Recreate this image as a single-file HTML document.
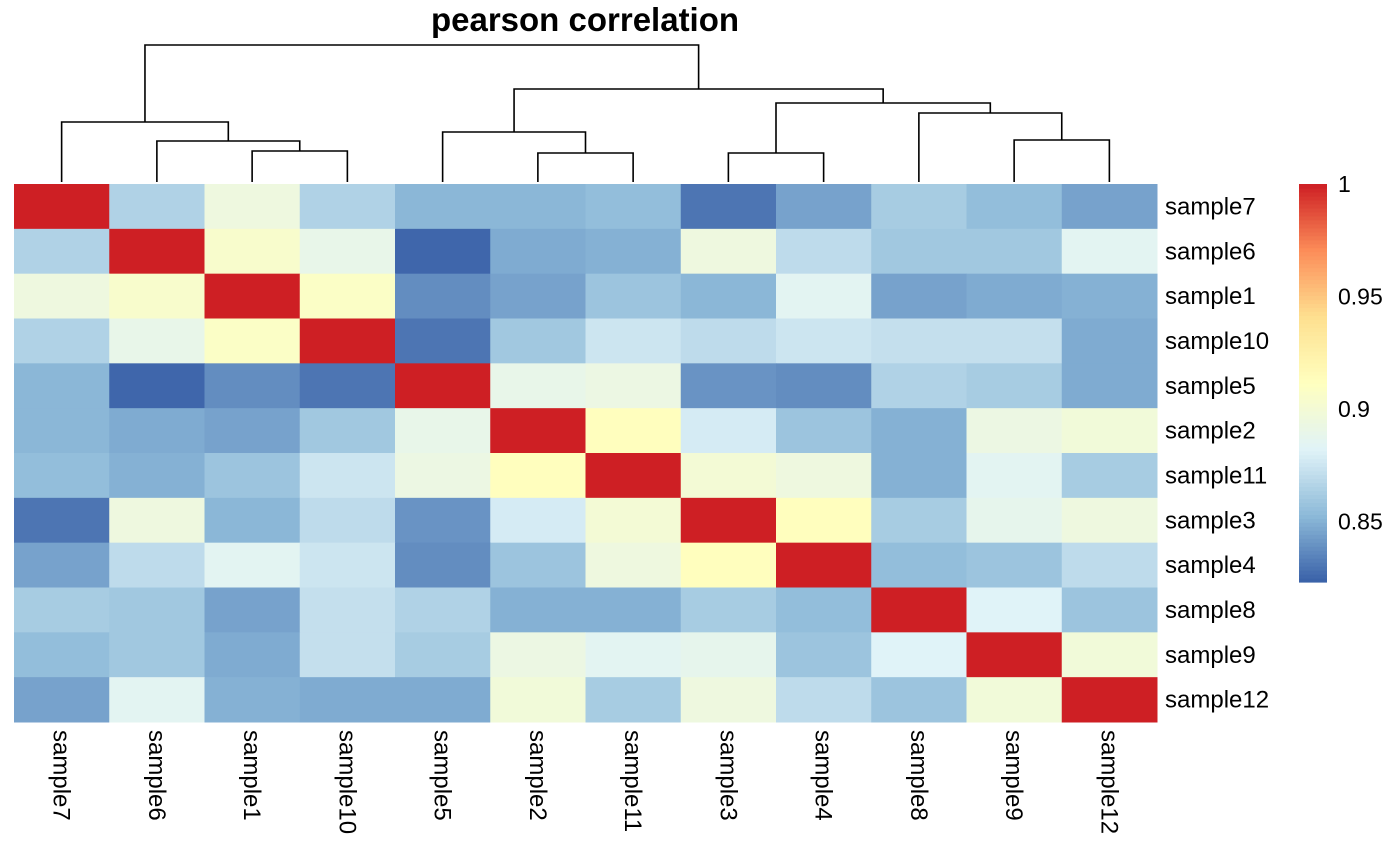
<!DOCTYPE html>
<html><head><meta charset="utf-8"><style>
body{margin:0;background:#fff;}
svg{display:block;font-family:"Liberation Sans",Arial,sans-serif;}
</style></head><body>
<svg id="chart" width="1400" height="866">
<text x="585" y="31" text-anchor="middle" font-size="33" font-weight="bold">pearson correlation</text>
<g id="cells"></g>
<g id="dendro" stroke="#000" stroke-width="1.6" fill="none"></g>
<g id="rowlabels" font-size="24"></g>
<g id="collabels" font-size="24"></g>
<g id="legend" font-size="23"></g>
</svg>
<script>
const labels = ["sample7","sample6","sample1","sample10","sample5","sample2","sample11","sample3","sample4","sample8","sample9","sample12"];
const row7  = [1,.865,.895,.865,.852,.852,.855,.830,.845,.862,.855,.845];
const row6  = [.865,1,.905,.89,.825,.848,.850,.895,.87,.86,.86,.885];
const row1  = [.895,.905,1,.908,.838,.845,.858,.852,.885,.845,.848,.850];
const row10 = [.865,.89,.908,1,.83,.86,.875,.87,.875,.872,.872,.848];
const row5  = [.852,.825,.838,.83,1,.89,.893,.84,.838,.865,.862,.848];
const row2  = [.852,.848,.845,.86,.89,1,.912,.878,.858,.85,.893,.898];
const row11 = [.855,.850,.858,.875,.893,.912,1,.90,.895,.85,.885,.862];
const row3  = [.830,.895,.852,.87,.84,.878,.90,1,.912,.862,.888,.895];
const row4  = [.845,.87,.885,.875,.838,.858,.895,.912,1,.855,.858,.87];
const row8  = [.862,.86,.845,.872,.865,.85,.85,.862,.855,1,.882,.858];
const row9  = [.855,.86,.848,.872,.862,.893,.885,.888,.858,.882,1,.898];
const row12 = [.845,.885,.85,.848,.848,.898,.862,.895,.87,.858,.898,1];
const matrix = [row7,row6,row1,row10,row5,row2,row11,row3,row4,row8,row9,row12];
const legendTicks = [0.85,0.9,0.95,1];
const merges = [[2,3,151],[1,-1,141],[0,-2,122],[5,6,153],[4,-4,132],[7,8,153],[10,11,140],[9,-7,113],[-6,-8,103],[-5,-9,89],[-3,-10,45]];
const vmin=0.823, vmax=1;
const stops=["#3960A8","#8CB9D8","#E0F3F8","#FFFFBF","#FEE090","#FC8D59","#CE1F24"];
function hex(h){return [1,3,5].map(i=>parseInt(h.substr(i,2),16));}
function color(v){let t=Math.max(0,Math.min(1,(v-vmin)/(vmax-vmin)))*(stops.length-1);let i=Math.min(Math.floor(t),stops.length-2),f=t-i;const a=hex(stops[i]),b=hex(stops[i+1]);return "rgb("+a.map((c,k)=>Math.round(c+(b[k]-c)*f)).join(",")+")";}
const X0=14,Y0=184,CW=(1157-14)/12,CH=(722-184)/12;
const xc=i=>X0+CW*(i+0.5);
const NS="http://www.w3.org/2000/svg";
function mk(tag,attrs,parent){const e=document.createElementNS(NS,tag);for(const k in attrs)e.setAttribute(k,attrs[k]);parent.appendChild(e);return e;}
const cells=document.getElementById('cells');
matrix.forEach((row,r)=>row.forEach((v,c)=>{
  const e=mk('rect',{x:X0+c*CW,y:Y0+r*CH,width:CW+0.5,height:CH+0.5,fill:color(v)},cells);
  
  
}));
const rl=document.getElementById('rowlabels');
labels.forEach((l,r)=>{const t=mk('text',{x:1165,y:Y0+CH*(r+0.5)+8},rl);t.textContent=l;
  
  });
const cl=document.getElementById('collabels');
labels.forEach((l,c)=>{const x=xc(c)-8,y=730;const t=mk('text',{x:x,y:y,transform:`rotate(90 ${x} ${y})`},cl);t.textContent=l;
  
  });
const dg=document.getElementById('dendro');
const nodes=[];
function pos(i){return i>=0?{x:xc(i),y:182}:nodes[-i-1];}
merges.forEach(m=>{const a=pos(m[0]),b=pos(m[1]),h=m[2];
  const p=mk('path',{d:`M${a.x},${a.y}V${h}H${b.x}V${b.y}`},dg);
  
  
  nodes.push({x:(a.x+b.x)/2,y:h});});
const lg=document.getElementById('legend');
const LX=1299,LW=28,LT=184,LB=582;
const ly=v=>LB-(v-vmin)/(vmax-vmin)*(LB-LT);
for(let k=0;k<100;k++){const v0=vmin+(vmax-vmin)*k/100,v1=vmin+(vmax-vmin)*(k+1)/100;
  const r=mk('rect',{x:LX,y:ly(v1),width:LW,height:ly(v0)-ly(v1)+0.6,fill:color((v0+v1)/2)},lg);
  
  }
legendTicks.forEach(v=>{const t=mk('text',{x:1338,y:ly(v)+8},lg);t.textContent=String(v);
  
  });
</script>
</body></html>
